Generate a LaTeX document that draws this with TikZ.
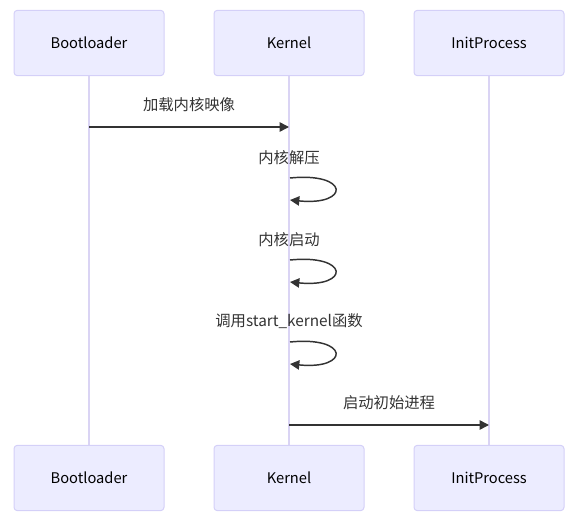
\documentclass[tikz,border=0pt]{standalone}
\usepackage{fontspec}
\setmainfont{Noto Sans CJK SC}
\usetikzlibrary{arrows.meta}
\definecolor{actfill}{HTML}{ECECFF}
\definecolor{actdraw}{HTML}{D4D0F8}
\definecolor{lifecol}{HTML}{DAD4F4}
\definecolor{msgcol}{HTML}{333333}
\begin{document}
\begin{tikzpicture}[x=0.75pt,y=-0.75pt,
  actor/.style={draw=actdraw,fill=actfill,rounded corners=2.5pt,line width=0.75pt,minimum width=112.5pt,minimum height=49pt,inner sep=0pt,font=\fontsize{11}{12}\selectfont,text=black},
  life/.style={draw=lifecol,line width=1.2pt},
  msg/.style={draw=msgcol,line width=1.1pt,-{Triangle[length=7pt,width=7pt]}},
  lbl/.style={font=\fontsize{11.5}{12}\selectfont,text=msgcol,inner sep=0pt}]
\useasboundingbox (0,0) rectangle (576,517);
\node[actor] (bt) at (89,43) {Bootloader};
\node[actor] (kt) at (289,43) {Kernel};
\node[actor] (it) at (489,43) {InitProcess};
\node[actor] (bb) at (89,478) {Bootloader};
\node[actor] (kb) at (289,478) {Kernel};
\node[actor] (ib) at (489,478) {InitProcess};
\draw[life] (bt) -- (bb);
\draw[life] (kt) -- (kb);
\draw[life] (it) -- (ib);
% message 1
\coordinate (m1a) at (89,127);
\coordinate (m1b) at (289,127);
\draw[msg] (m1a) -- (m1b);
\node[lbl] (l1) at (189,104.5) {加载内核映像};
% self loops
\node[lbl] (l2) at (289,157.5) {内核解压};
\coordinate (s2a) at (290,178);
\coordinate (s2b) at (290,200);
\draw[msg] (s2a) .. controls (350,172) and (350,206) .. (s2b);
\node[lbl] (l3) at (289,239.5) {内核启动};
\coordinate (s3a) at (290,260);
\coordinate (s3b) at (290,282);
\draw[msg] (s3a) .. controls (350,254) and (350,288) .. (s3b);
\node[lbl] (l4) at (289,321.5) {调用start\_kernel函数};
\coordinate (s4a) at (290,342);
\coordinate (s4b) at (290,364);
\draw[msg] (s4a) .. controls (350,336) and (350,370) .. (s4b);
% message 5
\coordinate (m5a) at (289,425);
\coordinate (m5b) at (489,425);
\draw[msg] (m5a) -- (m5b);
\node[lbl] (l5) at (389,402.5) {启动初始进程};
\end{tikzpicture}
\end{document}
